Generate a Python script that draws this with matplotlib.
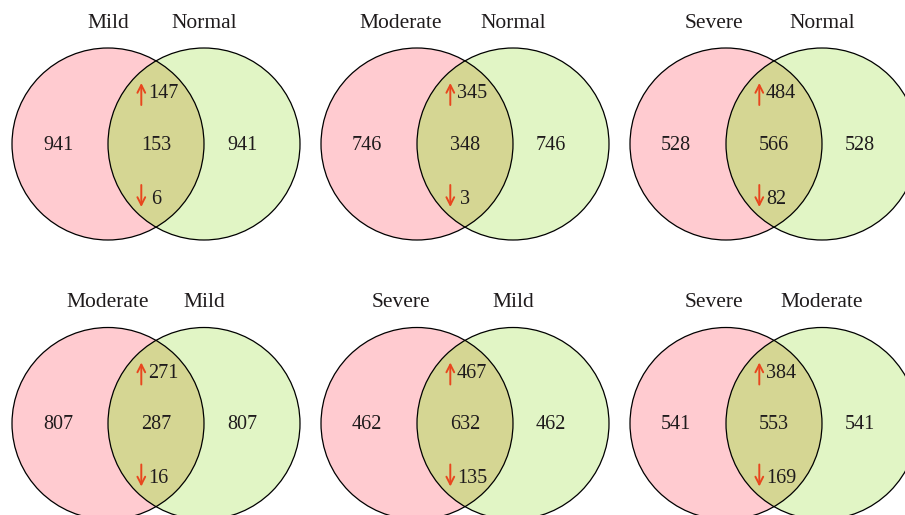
import matplotlib
matplotlib.use('Agg')
import matplotlib.pyplot as plt
from matplotlib.patches import Circle

# data for the six pairwise comparisons
left_labels = ['Mild', 'Moderate', 'Severe', 'Moderate', 'Severe', 'Severe']
right_labels = ['Normal', 'Normal', 'Normal', 'Mild', 'Mild', 'Moderate']
only_counts = [941, 746, 528, 807, 462, 541]
shared_counts = [153, 348, 566, 287, 632, 553]
up_counts = [147, 345, 484, 271, 467, 384]
down_counts = [6, 3, 82, 16, 135, 169]

# layout (pixel coordinates)
col_mid = [156, 465, 774]
row_cy = [144, 423.5]
r = 96
left_title_dx = [-48, -64, -60, -48, -64, -60]

pink = '#ffcbd0'
green = '#e1f5c5'
overlap_col = '#d5d693'
arrow_col = '#e8461e'
text_col = '#1f1b1c'

plt.rcParams['font.family'] = ['Liberation Serif', 'DejaVu Serif']

fig = plt.figure(figsize=(9.05, 5.15), dpi=100)
ax = fig.add_axes([0, 0, 1, 1])
ax.set_xlim(0, 905)
ax.set_ylim(515, 0)
ax.axis('off')

for i in range(6):
    mid = col_mid[i % 3]
    cy = row_cy[i // 3]
    lx, rx = mid - r / 2, mid + r / 2

    left_c = Circle((lx, cy), r, facecolor=pink, edgecolor='none')
    right_c = Circle((rx, cy), r, facecolor=green, edgecolor='none')
    ax.add_patch(left_c)
    ax.add_patch(right_c)
    # lens = right circle clipped by the left one
    lens = Circle((rx, cy), r, facecolor=overlap_col, edgecolor='none')
    ax.add_patch(lens)
    lens.set_clip_path(left_c)
    # outlines on top
    for x in (lx, rx):
        ax.add_patch(Circle((x, cy), r, facecolor='none', edgecolor='black', lw=0.9))

    # titles
    ax.text(mid + left_title_dx[i], cy - 121, left_labels[i], ha='center', va='center',
            fontsize=15.5, color=text_col)
    ax.text(rx, cy - 121, right_labels[i], ha='center', va='center',
            fontsize=15.5, color=text_col)

    # counts
    ax.text(mid - 98, cy + 1, str(only_counts[i]), ha='center', va='center', fontsize=14.5, color=text_col)
    ax.text(mid + 86, cy + 1, str(only_counts[i]), ha='center', va='center', fontsize=14.5, color=text_col)
    ax.text(mid, cy + 1, str(shared_counts[i]), ha='center', va='center', fontsize=14.5, color=text_col)

    up_s, down_s = str(up_counts[i]), str(down_counts[i])
    ax.text(mid - 8 + (3 if len(up_s) == 1 else 0), cy - 50, up_s, ha='left', va='center',
            fontsize=14.5, color=text_col)
    ax.text(mid - 8 + (3 if len(down_s) == 1 else 0), cy + 55, down_s, ha='left', va='center',
            fontsize=14.5, color=text_col)

    # up / down arrows
    ax_x = mid - 14.7
    ax.annotate('', xy=(ax_x, cy - 61), xytext=(ax_x, cy - 39),
                arrowprops=dict(arrowstyle='->,head_length=0.55,head_width=0.28', color=arrow_col,
                                lw=1.4, shrinkA=0, shrinkB=0))
    ax.annotate('', xy=(ax_x, cy + 63), xytext=(ax_x, cy + 41),
                arrowprops=dict(arrowstyle='->,head_length=0.55,head_width=0.28', color=arrow_col,
                                lw=1.4, shrinkA=0, shrinkB=0))

fig.savefig('out.png', dpi=100)
